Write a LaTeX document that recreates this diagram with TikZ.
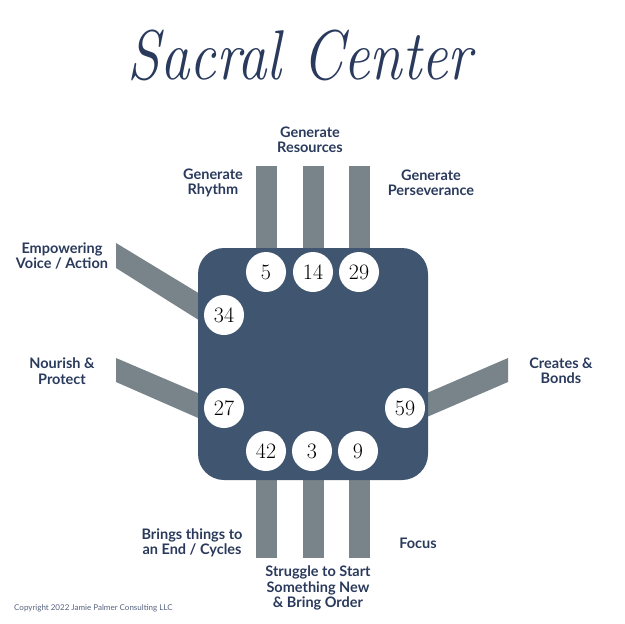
\documentclass[tikz,border=0pt]{standalone}
\usepackage{fontspec}
\setsansfont{Lato}
\definecolor{navy}{HTML}{2A3A5C}
\definecolor{boxc}{HTML}{3F5570}
\definecolor{barc}{HTML}{78848A}
\begin{document}
\begin{tikzpicture}[x=1pt,y=-1pt,
  lbl/.style={font=\sffamily\bfseries\fontsize{14.5}{15.5}\selectfont,text=navy,align=center,inner sep=0pt},
  gate/.style={circle,fill=white,minimum size=40pt,inner sep=0pt,font=\fontsize{22}{22}\selectfont},
  bar/.style={fill=barc}]
\useasboundingbox (0,0) rectangle (624,624);
% bars
\fill[bar] (256,166) rectangle (277,260);
\fill[bar] (303,166) rectangle (324,260);
\fill[bar] (349,166) rectangle (370,260);
\fill[bar] (256,470) rectangle (277,558);
\fill[bar] (303,470) rectangle (324,558);
\fill[bar] (349,470) rectangle (370,558);
\fill[bar] (116,243) -- (205,297) -- (205,324) -- (116,268) -- cycle;
\fill[bar] (116,358) -- (205,396) -- (205,421) -- (116,382) -- cycle;
\fill[bar] (420,396) -- (508,358) -- (508,382) -- (420,420) -- cycle;
% box
\node[fill=boxc,rounded corners=26pt,minimum width=230pt,minimum height=232pt,inner sep=0pt] (center) at (313,364) {};
% gates
\node[gate] (g5) at (266,272) {5};
\node[gate] (g14) at (313,272) {14};
\node[gate] (g29) at (359,272) {29};
\node[gate] (g34) at (224,315) {34};
\node[gate] (g27) at (224,408) {27};
\node[gate] (g59) at (405,408) {59};
\node[gate] (g42) at (266,451) {42};
\node[gate] (g3) at (312,451) {3};
\node[gate] (g9) at (358,451) {9};
% title
\node[font=\itshape\fontsize{64}{64}\selectfont,text=navy,xscale=0.92,yscale=1.1] (title) at (300,55) {Sacral Center};
% labels
\node[lbl] (lres) at (310,140) {Generate\\Resources};
\node[lbl] (lrhy) at (213,183) {Generate\\Rhythm};
\node[lbl] (lper) at (431,183) {Generate\\Perseverance};
\node[lbl] (lemp) at (62,256) {Empowering\\Voice / Action};
\node[lbl] (lnou) at (62,371) {Nourish \&\\Protect};
\node[lbl] (lcre) at (561,371) {Creates \&\\Bonds};
\node[lbl] (lbri) at (192,543) {Brings things to\\an End / Cycles};
\node[lbl] (lfoc) at (418,543) {Focus};
\node[lbl] (lstr) at (318,588) {Struggle to Start\\Something New\\\& Bring Order};
\node[font=\sffamily\fontsize{8}{8}\selectfont,text=navy!80,anchor=west,inner sep=0pt] (copy) at (14,608) {Copyright 2022 Jamie Palmer Consulting LLC};
\end{tikzpicture}
\end{document}
